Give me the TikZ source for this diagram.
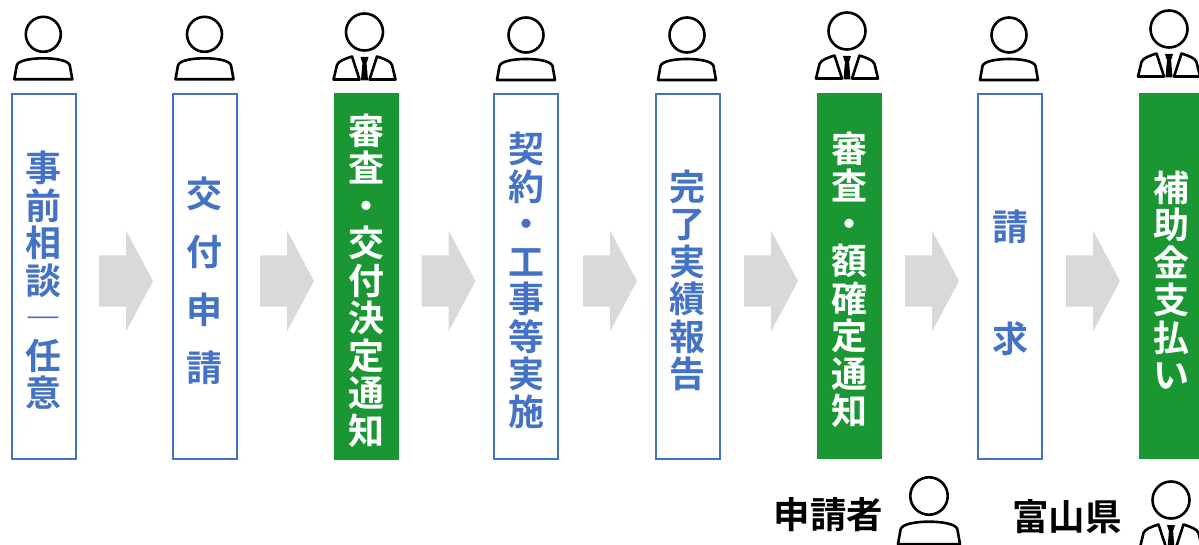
\documentclass[tikz,border=0pt]{standalone}
\usepackage{fontspec}
\setmainfont{Noto Sans CJK JP Bold}
\definecolor{boxblue}{HTML}{4472C4}
\definecolor{boxgreen}{HTML}{1A9632}
\definecolor{arrowgray}{HTML}{D9D9D9}
\tikzset{
  bluebox/.style={draw=boxblue,line width=2pt,fill=white,minimum width=64pt,minimum height=365pt,inner sep=0pt},
  greenbox/.style={fill=boxgreen,minimum width=65pt,minimum height=366pt,inner sep=0pt},
  bluetext/.style={text=boxblue,align=center,inner sep=0pt,font=\fontsize{36}{37.5}\selectfont},
  greentext/.style={text=white,align=center,inner sep=0pt,font=\fontsize{36}{37.5}\selectfont},
  whotext/.style={text=black,inner sep=0pt,font=\fontsize{36.5}{37}\selectfont},
  plainperson/.pic={
    \draw[line width=2.6pt] (0,0) circle (17.5);
    \draw[line width=2.6pt,line join=round] (-29,45) -- (-26.5,31) .. controls (-25,26) and (-12,24) .. (0,24) .. controls (12,24) and (25,26) .. (26.5,31) -- (29,45) -- cycle;
  },
  suitperson/.pic={
    \draw[line width=2.6pt] (0,0) circle (18.5);
    \draw[line width=2.6pt,line join=round] (-31,47.5) -- (-27.5,33) .. controls (-26,29) and (-20,27) .. (-12.5,24.5) -- (-5,47.5) -- cycle;
    \draw[line width=2.6pt,line join=round] (31,47.5) -- (27.5,33) .. controls (26,29) and (20,27) .. (12.5,24.5) -- (5,47.5) -- cycle;
    \fill (-4,25) -- (4,25) -- (2.5,30) -- (-2.5,30) -- cycle;
    \fill (-2,30) -- (2,30) -- (3.5,48.5) -- (-3.5,48.5) -- cycle;
  },
  flowarrow/.pic={
    \fill[arrowgray] (0,-25.5) -- (27,-25.5) -- (27,-50.5) -- (54,0) -- (27,50.5) -- (27,25.5) -- (0,25.5) -- cycle;
  }
}
\begin{document}
\begin{tikzpicture}[x=1pt,y=-1pt]
\useasboundingbox (0,0) rectangle (1199,545);

% step boxes
\node[bluebox] (box1) at (43.5,276.5) {};
\node[bluebox] (box2) at (204.5,276.5) {};
\node[greenbox] (box3) at (366,276.5) {};
\node[bluebox] (box4) at (526,276.5) {};
\node[bluebox] (box5) at (687.5,276.5) {};
\node[greenbox] (box6) at (849,276) {};
\node[bluebox] (box7) at (1010,276.5) {};
\node[greenbox] (box8) at (1171.5,276) {};

% step texts
\node[bluetext,yshift=-4] (text1) at (box1) {事\\前\\相\\談\\―\\任\\意};
\node[bluetext,yshift=-4] (text2) at (box2) {交\\[20.5pt]付\\[20.5pt]申\\[20.5pt]請};
\node[greentext,yshift=-4] (text3) at (box3) {審\\査\\・\\交\\付\\決\\定\\通\\知};
\node[bluetext,yshift=-4] (text4) at (box4) {契\\約\\・\\工\\事\\等\\実\\施};
\node[bluetext,yshift=-4] (text5) at (box5) {完\\了\\実\\績\\報\\告};
\node[greentext,yshift=-4] (text6) at (box6) {審\\査\\・\\額\\確\\定\\通\\知};
\node[bluetext,yshift=-6] (text7) at (box7) {請\\[74.5pt]求};
\node[greentext,yshift=-4] (text8) at (box8) {補\\助\\金\\支\\払\\い};

% arrows between the boxes
\foreach \x in {99,260,421.5,583,744,905,1066}
  \pic at (\x,281) {flowarrow};

% people above the boxes
\pic at (43.3,34.3) {plainperson};
\pic at (204.5,34.3) {plainperson};
\pic at (364.5,32) {suitperson};
\pic at (526,35) {plainperson};
\pic at (687,35) {plainperson};
\pic at (847,31) {suitperson};
\pic at (1009,35) {plainperson};
\pic at (1169,29) {suitperson};

% legend
\node[whotext] (who1) at (828.5,515) {申請者};
\pic[scale=1.07] at (929,496) {plainperson};
\node[whotext] (who2) at (1067,517) {富山県};
\pic at (1171,500) {suitperson};
\end{tikzpicture}
\end{document}
